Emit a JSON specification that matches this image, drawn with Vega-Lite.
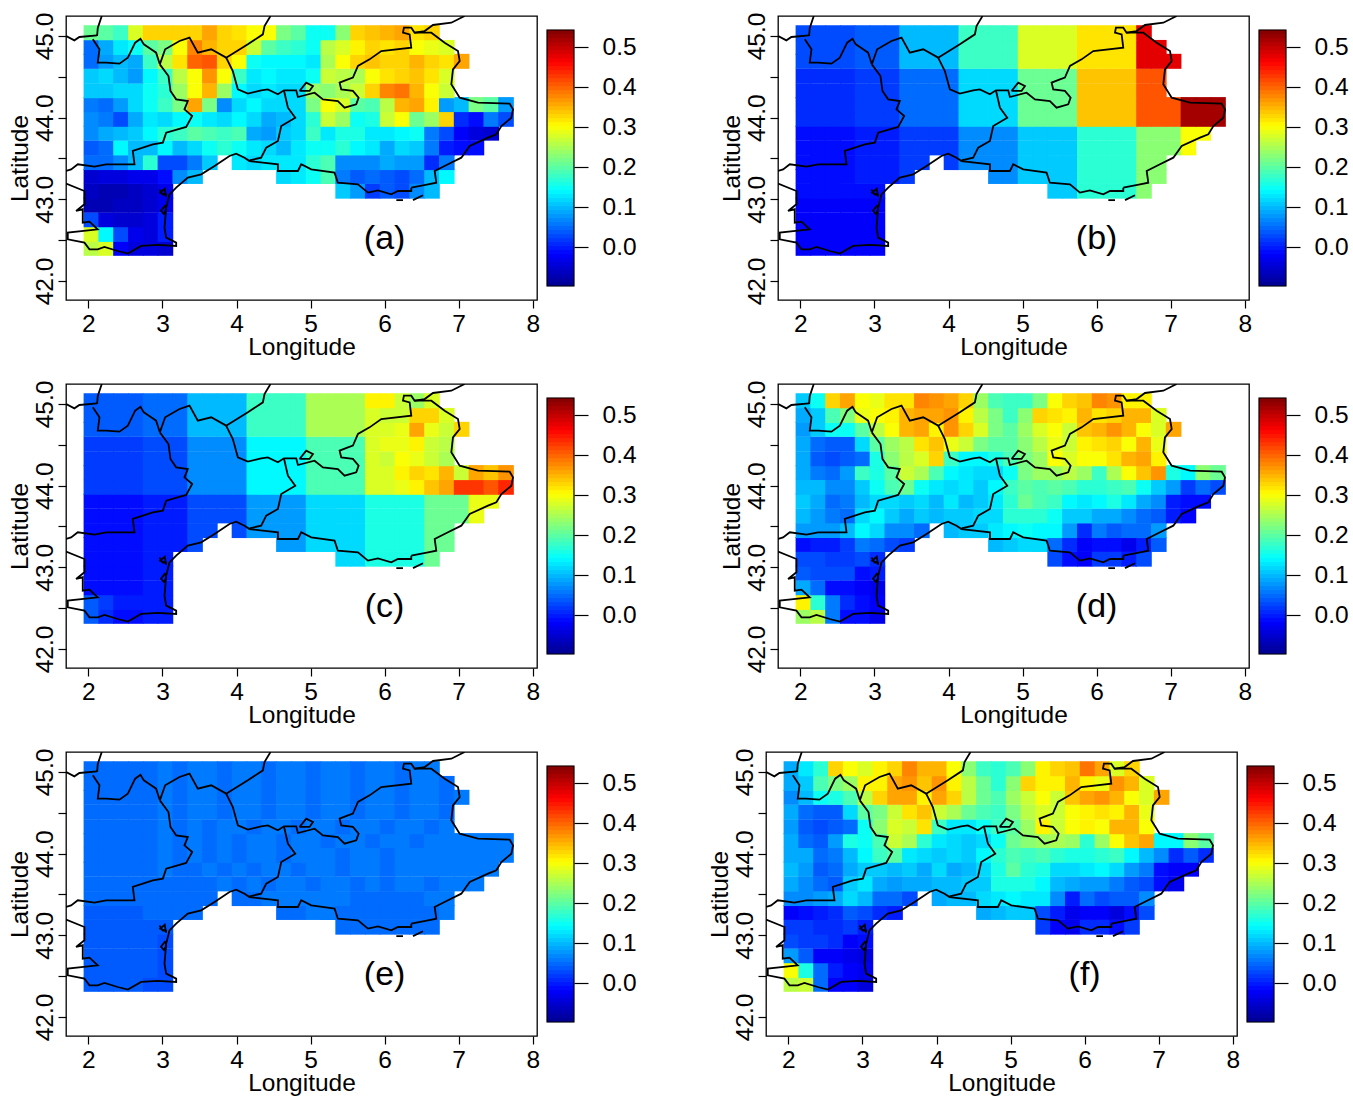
{"$schema":"https://vega.github.io/schema/vega-lite/v6.json","padding":{"left":6,"top":11,"right":2,"bottom":2},"background":"white","config":{"font":"Liberation Sans","view":{"stroke":"black","strokeWidth":1.3},"axis":{"grid":false,"domain":false,"labelColor":"black","titleColor":"black","tickColor":"black","labelFontSize":24.5,"titleFontSize":24.5,"titleFontWeight":"normal","tickSize":8,"tickWidth":1.2,"labelOverlap":false,"labelFlush":false}},"datasets":{"cells":[
{"x":2.04,"y":42.4,"a":26,"b":-2,"c":4,"d":24,"e":4,"f":26},{"x":2.24,"y":42.4,"a":28,"b":-2,"c":1,"d":26,"e":4,"f":27},{"x":2.44,"y":42.4,"a":-2,"b":-2,"c":-1,"d":6,"e":4,"f":5},{"x":2.64,"y":42.4,"a":-4,"b":-2,"c":-1,"d":-1,"e":4,"f":-2},{"x":2.84,"y":42.4,"a":-4,"b":-2,"c":0,"d":-1,"e":3,"f":-2},{"x":3.04,"y":42.4,"a":-5,"b":-2,"c":0,"d":-3,"e":3,"f":-4},
{"x":2.04,"y":42.57,"a":28,"b":-2,"c":4,"d":31,"e":4,"f":30},{"x":2.24,"y":42.57,"a":14,"b":-2,"c":2,"d":17,"e":4,"f":16},{"x":2.44,"y":42.57,"a":3,"b":-2,"c":0,"d":6,"e":4,"f":5},{"x":2.64,"y":42.57,"a":-3,"b":-2,"c":0,"d":1,"e":4,"f":0},{"x":2.84,"y":42.57,"a":-4,"b":-2,"c":0,"d":-1,"e":4,"f":-2},{"x":3.04,"y":42.57,"a":0,"b":-2,"c":0,"d":-2,"e":3,"f":-3},
{"x":2.04,"y":42.75,"a":3,"b":-2,"c":-1,"d":9,"e":4,"f":8},{"x":2.24,"y":42.75,"a":-4,"b":-2,"c":-1,"d":5,"e":4,"f":4},{"x":2.44,"y":42.75,"a":-5,"b":-2,"c":-1,"d":-1,"e":4,"f":-2},{"x":2.64,"y":42.75,"a":-5,"b":-2,"c":-1,"d":-1,"e":4,"f":-2},{"x":2.84,"y":42.75,"a":-4,"b":-2,"c":0,"d":-2,"e":4,"f":-3},{"x":3.04,"y":42.75,"a":0,"b":-2,"c":0,"d":-3,"e":3,"f":-4},
{"x":2.04,"y":42.93,"a":-7,"b":-2,"c":-1,"d":4,"e":4,"f":3},{"x":2.24,"y":42.93,"a":-7,"b":-2,"c":-1,"d":3,"e":4,"f":2},{"x":2.44,"y":42.93,"a":-6,"b":-2,"c":-1,"d":3,"e":4,"f":2},{"x":2.64,"y":42.93,"a":-6,"b":-2,"c":-1,"d":3,"e":4,"f":1},{"x":2.84,"y":42.93,"a":-5,"b":-2,"c":0,"d":-1,"e":4,"f":-2},{"x":3.04,"y":42.93,"a":-3,"b":-2,"c":0,"d":0,"e":3,"f":-1},
{"x":2.04,"y":43.1,"a":-6,"b":-1,"c":-1,"d":3,"e":4,"f":2},{"x":2.24,"y":43.1,"a":-7,"b":-1,"c":-1,"d":3,"e":4,"f":2},{"x":2.44,"y":43.1,"a":-7,"b":-1,"c":-1,"d":2,"e":4,"f":1},{"x":2.64,"y":43.1,"a":-6,"b":-1,"c":-1,"d":2,"e":4,"f":1},{"x":2.84,"y":43.1,"a":-5,"b":-1,"c":0,"d":3,"e":4,"f":2},{"x":3.04,"y":43.1,"a":-3,"b":-1,"c":0,"d":1,"e":4,"f":0},{"x":5.44,"y":43.1,"a":11,"b":11,"c":12,"d":3,"e":5,"f":2},{"x":5.64,"y":43.1,"a":8,"b":11,"c":12,"d":-1,"e":5,"f":-2},{"x":5.84,"y":43.1,"a":2,"b":17,"c":16,"d":-2,"e":5,"f":-3},{"x":6.04,"y":43.1,"a":4,"b":17,"c":16,"d":2,"e":5,"f":1},{"x":6.24,"y":43.1,"a":3,"b":17,"c":16,"d":2,"e":5,"f":1},{"x":6.44,"y":43.1,"a":7,"b":17,"c":16,"d":0,"e":5,"f":-1},{"x":6.64,"y":43.1,"a":10,"b":23,"c":21,"d":3,"e":5,"f":2},
{"x":2.04,"y":43.28,"a":-5,"b":-1,"c":-1,"d":-1,"e":4,"f":-2},{"x":2.24,"y":43.28,"a":-4,"b":-1,"c":-1,"d":0,"e":4,"f":-1},{"x":2.44,"y":43.28,"a":-4,"b":-1,"c":-1,"d":0,"e":4,"f":0},{"x":2.64,"y":43.28,"a":-3,"b":-1,"c":-1,"d":2,"e":4,"f":1},{"x":2.84,"y":43.28,"a":-3,"b":0,"c":0,"d":6,"e":5,"f":4},{"x":3.04,"y":43.28,"a":-1,"b":0,"c":0,"d":5,"e":5,"f":3},{"x":3.24,"y":43.28,"a":7,"b":0,"c":0,"d":3,"e":5,"f":1},{"x":3.44,"y":43.28,"a":10,"b":2,"c":3,"d":2,"e":5,"f":0},{"x":4.64,"y":43.28,"a":12,"b":7,"c":8,"d":10,"e":5,"f":9},{"x":4.84,"y":43.28,"a":13,"b":7,"c":8,"d":11,"e":5,"f":10},{"x":5.04,"y":43.28,"a":15,"b":11,"c":12,"d":12,"e":6,"f":11},{"x":5.24,"y":43.28,"a":19,"b":11,"c":12,"d":12,"e":6,"f":11},{"x":5.44,"y":43.28,"a":6,"b":11,"c":12,"d":5,"e":5,"f":3},{"x":5.64,"y":43.28,"a":4,"b":11,"c":12,"d":1,"e":5,"f":0},{"x":5.84,"y":43.28,"a":5,"b":17,"c":16,"d":-2,"e":5,"f":-3},{"x":6.04,"y":43.28,"a":4,"b":17,"c":16,"d":-1,"e":5,"f":-2},{"x":6.24,"y":43.28,"a":3,"b":17,"c":16,"d":-1,"e":5,"f":-2},{"x":6.44,"y":43.28,"a":5,"b":17,"c":16,"d":-3,"e":5,"f":-4},{"x":6.64,"y":43.28,"a":10,"b":23,"c":21,"d":0,"e":5,"f":-1},{"x":6.84,"y":43.28,"a":14,"b":23,"c":21,"d":4,"e":6,"f":3},
{"x":2.04,"y":43.45,"a":5,"b":-1,"c":-1,"d":8,"e":5,"f":7},{"x":2.24,"y":43.45,"a":5,"b":-1,"c":-1,"d":8,"e":5,"f":7},{"x":2.44,"y":43.45,"a":7,"b":-1,"c":-1,"d":8,"e":5,"f":8},{"x":2.64,"y":43.45,"a":10,"b":-1,"c":-1,"d":10,"e":5,"f":9},{"x":2.84,"y":43.45,"a":17,"b":0,"c":0,"d":14,"e":5,"f":12},{"x":3.04,"y":43.45,"a":3,"b":0,"c":0,"d":12,"e":5,"f":10},{"x":3.24,"y":43.45,"a":3,"b":0,"c":0,"d":7,"e":5,"f":5},{"x":3.44,"y":43.45,"a":6,"b":2,"c":3,"d":7,"e":5,"f":5},{"x":3.64,"y":43.45,"a":11,"b":2,"c":3,"d":5,"e":5,"f":3},{"x":4.04,"y":43.45,"a":13,"b":2,"c":3,"d":10,"e":5,"f":9},{"x":4.24,"y":43.45,"a":12,"b":7,"c":8,"d":11,"e":5,"f":10},{"x":4.44,"y":43.45,"a":13,"b":7,"c":8,"d":11,"e":6,"f":10},{"x":4.64,"y":43.45,"a":13,"b":7,"c":8,"d":13,"e":6,"f":12},{"x":4.84,"y":43.45,"a":13,"b":7,"c":8,"d":14,"e":6,"f":13},{"x":5.04,"y":43.45,"a":17,"b":11,"c":12,"d":15,"e":6,"f":14},{"x":5.24,"y":43.45,"a":19,"b":11,"c":12,"d":14,"e":6,"f":13},{"x":5.44,"y":43.45,"a":7,"b":11,"c":12,"d":14,"e":6,"f":13},{"x":5.64,"y":43.45,"a":7,"b":11,"c":12,"d":8,"e":5,"f":7},{"x":5.84,"y":43.45,"a":7,"b":17,"c":16,"d":1,"e":5,"f":0},{"x":6.04,"y":43.45,"a":9,"b":17,"c":16,"d":6,"e":5,"f":5},{"x":6.24,"y":43.45,"a":8,"b":17,"c":16,"d":4,"e":5,"f":3},{"x":6.44,"y":43.45,"a":8,"b":17,"c":16,"d":5,"e":5,"f":4},{"x":6.64,"y":43.45,"a":1,"b":23,"c":21,"d":5,"e":6,"f":4},{"x":6.84,"y":43.45,"a":6,"b":23,"c":21,"d":8,"e":6,"f":7},
{"x":2.04,"y":43.63,"a":4,"b":-1,"c":-1,"d":10,"e":5,"f":9},{"x":2.24,"y":43.63,"a":5,"b":-1,"c":-1,"d":8,"e":5,"f":7},{"x":2.44,"y":43.63,"a":14,"b":-1,"c":-1,"d":6,"e":5,"f":5},{"x":2.64,"y":43.63,"a":10,"b":-1,"c":-1,"d":5,"e":5,"f":4},{"x":2.84,"y":43.63,"a":10,"b":0,"c":0,"d":12,"e":5,"f":11},{"x":3.04,"y":43.63,"a":14,"b":0,"c":0,"d":14,"e":5,"f":13},{"x":3.24,"y":43.63,"a":10,"b":0,"c":0,"d":11,"e":5,"f":9},{"x":3.44,"y":43.63,"a":12,"b":2,"c":3,"d":9,"e":5,"f":8},{"x":3.64,"y":43.63,"a":15,"b":2,"c":3,"d":11,"e":5,"f":9},{"x":3.84,"y":43.63,"a":17,"b":2,"c":3,"d":10,"e":6,"f":9},{"x":4.04,"y":43.63,"a":15,"b":2,"c":3,"d":11,"e":5,"f":10},{"x":4.24,"y":43.63,"a":13,"b":7,"c":8,"d":11,"e":6,"f":10},{"x":4.44,"y":43.63,"a":12,"b":7,"c":8,"d":12,"e":5,"f":11},{"x":4.64,"y":43.63,"a":10,"b":7,"c":8,"d":12,"e":6,"f":11},{"x":4.84,"y":43.63,"a":13,"b":7,"c":8,"d":17,"e":6,"f":16},{"x":5.04,"y":43.63,"a":15,"b":11,"c":12,"d":17,"e":5,"f":16},{"x":5.24,"y":43.63,"a":15,"b":11,"c":12,"d":17,"e":6,"f":16},{"x":5.44,"y":43.63,"a":17,"b":11,"c":12,"d":15,"e":6,"f":14},{"x":5.64,"y":43.63,"a":14,"b":11,"c":12,"d":11,"e":5,"f":10},{"x":5.84,"y":43.63,"a":13,"b":17,"c":16,"d":11,"e":6,"f":9},{"x":6.04,"y":43.63,"a":9,"b":17,"c":16,"d":9,"e":5,"f":8},{"x":6.24,"y":43.63,"a":12,"b":17,"c":16,"d":9,"e":6,"f":8},{"x":6.44,"y":43.63,"a":11,"b":17,"c":16,"d":7,"e":6,"f":6},{"x":6.64,"y":43.63,"a":6,"b":23,"c":21,"d":5,"e":5,"f":4},{"x":6.84,"y":43.63,"a":0,"b":23,"c":21,"d":4,"e":6,"f":3},{"x":7.04,"y":43.63,"a":-1,"b":23,"c":21,"d":0,"e":6,"f":-1},{"x":7.24,"y":43.63,"a":-1,"b":30,"c":29,"d":-2,"e":6,"f":-3},
{"x":2.04,"y":43.81,"a":7,"b":-1,"c":-1,"d":11,"e":5,"f":10},{"x":2.24,"y":43.81,"a":9,"b":-1,"c":-1,"d":9,"e":5,"f":8},{"x":2.44,"y":43.81,"a":10,"b":-1,"c":-1,"d":5,"e":5,"f":4},{"x":2.64,"y":43.81,"a":11,"b":-1,"c":-1,"d":6,"e":5,"f":5},{"x":2.84,"y":43.81,"a":14,"b":0,"c":0,"d":10,"e":5,"f":9},{"x":3.04,"y":43.81,"a":17,"b":0,"c":0,"d":12,"e":6,"f":11},{"x":3.24,"y":43.81,"a":18,"b":0,"c":0,"d":12,"e":5,"f":11},{"x":3.44,"y":43.81,"a":20,"b":2,"c":3,"d":11,"e":5,"f":10},{"x":3.64,"y":43.81,"a":19,"b":2,"c":3,"d":12,"e":6,"f":11},{"x":3.84,"y":43.81,"a":18,"b":2,"c":3,"d":10,"e":5,"f":9},{"x":4.04,"y":43.81,"a":19,"b":2,"c":3,"d":13,"e":6,"f":12},{"x":4.24,"y":43.81,"a":9,"b":7,"c":8,"d":10,"e":5,"f":9},{"x":4.44,"y":43.81,"a":8,"b":7,"c":8,"d":11,"e":6,"f":10},{"x":4.64,"y":43.81,"a":11,"b":7,"c":8,"d":13,"e":6,"f":12},{"x":4.84,"y":43.81,"a":12,"b":7,"c":8,"d":17,"e":5,"f":16},{"x":5.04,"y":43.81,"a":18,"b":11,"c":12,"d":21,"e":6,"f":20},{"x":5.24,"y":43.81,"a":13,"b":11,"c":12,"d":19,"e":6,"f":17},{"x":5.44,"y":43.81,"a":16,"b":11,"c":12,"d":18,"e":5,"f":16},{"x":5.64,"y":43.81,"a":16,"b":11,"c":12,"d":14,"e":6,"f":12},{"x":5.84,"y":43.81,"a":13,"b":17,"c":16,"d":13,"e":6,"f":12},{"x":6.04,"y":43.81,"a":13,"b":17,"c":16,"d":14,"e":5,"f":13},{"x":6.24,"y":43.81,"a":14,"b":17,"c":16,"d":16,"e":6,"f":14},{"x":6.44,"y":43.81,"a":15,"b":17,"c":16,"d":13,"e":6,"f":12},{"x":6.64,"y":43.81,"a":6,"b":23,"c":21,"d":9,"e":6,"f":8},{"x":6.84,"y":43.81,"a":3,"b":23,"c":21,"d":7,"e":6,"f":6},{"x":7.04,"y":43.81,"a":-2,"b":23,"c":21,"d":0,"e":6,"f":-1},{"x":7.24,"y":43.81,"a":-4,"b":30,"c":29,"d":-1,"e":6,"f":-2},{"x":7.44,"y":43.81,"a":-5,"b":30,"c":29,"d":-1,"e":6,"f":-2},
{"x":2.04,"y":43.98,"a":7,"b":1,"c":2,"d":10,"e":5,"f":9},{"x":2.24,"y":43.98,"a":6,"b":1,"c":2,"d":10,"e":5,"f":9},{"x":2.44,"y":43.98,"a":3,"b":1,"c":2,"d":7,"e":5,"f":5},{"x":2.64,"y":43.98,"a":9,"b":1,"c":2,"d":7,"e":5,"f":6},{"x":2.84,"y":43.98,"a":13,"b":2,"c":3,"d":11,"e":5,"f":10},{"x":3.04,"y":43.98,"a":12,"b":2,"c":3,"d":15,"e":6,"f":14},{"x":3.24,"y":43.98,"a":14,"b":2,"c":3,"d":19,"e":5,"f":18},{"x":3.44,"y":43.98,"a":15,"b":5,"c":7,"d":21,"e":6,"f":20},{"x":3.64,"y":43.98,"a":13,"b":5,"c":7,"d":15,"e":5,"f":13},{"x":3.84,"y":43.98,"a":12,"b":5,"c":7,"d":13,"e":6,"f":12},{"x":4.04,"y":43.98,"a":14,"b":5,"c":7,"d":12,"e":5,"f":11},{"x":4.24,"y":43.98,"a":12,"b":12,"c":14,"d":13,"e":6,"f":12},{"x":4.44,"y":43.98,"a":9,"b":12,"c":14,"d":11,"e":6,"f":11},{"x":4.64,"y":43.98,"a":10,"b":12,"c":14,"d":14,"e":5,"f":14},{"x":4.84,"y":43.98,"a":12,"b":12,"c":14,"d":18,"e":6,"f":17},{"x":5.04,"y":43.98,"a":17,"b":21,"c":19,"d":20,"e":6,"f":19},{"x":5.24,"y":43.98,"a":27,"b":21,"c":19,"d":19,"e":6,"f":18},{"x":5.44,"y":43.98,"a":24,"b":21,"c":19,"d":20,"e":5,"f":19},{"x":5.64,"y":43.98,"a":15,"b":21,"c":19,"d":19,"e":6,"f":17},{"x":5.84,"y":43.98,"a":16,"b":34,"c":28,"d":17,"e":6,"f":16},{"x":6.04,"y":43.98,"a":27,"b":34,"c":28,"d":17,"e":5,"f":16},{"x":6.24,"y":43.98,"a":30,"b":34,"c":29,"d":18,"e":6,"f":17},{"x":6.44,"y":43.98,"a":21,"b":34,"c":31,"d":19,"e":6,"f":18},{"x":6.64,"y":43.98,"a":24,"b":41,"c":34,"d":15,"e":6,"f":14},{"x":6.84,"y":43.98,"a":33,"b":41,"c":36,"d":11,"e":6,"f":10},{"x":7.04,"y":43.98,"a":1,"b":41,"c":43,"d":8,"e":6,"f":7},{"x":7.24,"y":43.98,"a":-1,"b":52,"c":43,"d":2,"e":6,"f":1},{"x":7.44,"y":43.98,"a":6,"b":52,"c":41,"d":5,"e":6,"f":4},{"x":7.64,"y":43.98,"a":3,"b":52,"c":44,"d":3,"e":6,"f":1},
{"x":2.04,"y":44.16,"a":6,"b":1,"c":2,"d":9,"e":5,"f":9},{"x":2.24,"y":44.16,"a":5,"b":1,"c":2,"d":6,"e":5,"f":5},{"x":2.44,"y":44.16,"a":8,"b":1,"c":2,"d":5,"e":5,"f":4},{"x":2.64,"y":44.16,"a":12,"b":1,"c":2,"d":8,"e":5,"f":8},{"x":2.84,"y":44.16,"a":15,"b":2,"c":3,"d":18,"e":5,"f":16},{"x":3.04,"y":44.16,"a":18,"b":2,"c":3,"d":16,"e":6,"f":15},{"x":3.24,"y":44.16,"a":22,"b":2,"c":3,"d":20,"e":5,"f":19},{"x":3.44,"y":44.16,"a":36,"b":5,"c":7,"d":27,"e":6,"f":27},{"x":3.64,"y":44.16,"a":22,"b":5,"c":7,"d":25,"e":5,"f":25},{"x":3.84,"y":44.16,"a":7,"b":5,"c":7,"d":19,"e":6,"f":17},{"x":4.04,"y":44.16,"a":12,"b":5,"c":7,"d":14,"e":5,"f":13},{"x":4.24,"y":44.16,"a":14,"b":12,"c":14,"d":13,"e":6,"f":12},{"x":4.44,"y":44.16,"a":12,"b":12,"c":14,"d":12,"e":6,"f":11},{"x":4.64,"y":44.16,"a":12,"b":12,"c":14,"d":12,"e":5,"f":12},{"x":4.84,"y":44.16,"a":12,"b":12,"c":14,"d":15,"e":6,"f":15},{"x":5.04,"y":44.16,"a":22,"b":21,"c":19,"d":22,"e":6,"f":21},{"x":5.24,"y":44.16,"a":30,"b":21,"c":19,"d":24,"e":5,"f":23},{"x":5.44,"y":44.16,"a":28,"b":21,"c":19,"d":24,"e":6,"f":24},{"x":5.64,"y":44.16,"a":20,"b":21,"c":19,"d":26,"e":6,"f":25},{"x":5.84,"y":44.16,"a":19,"b":34,"c":28,"d":24,"e":5,"f":24},{"x":6.04,"y":44.16,"a":26,"b":34,"c":28,"d":18,"e":6,"f":17},{"x":6.24,"y":44.16,"a":35,"b":34,"c":31,"d":25,"e":6,"f":24},{"x":6.44,"y":44.16,"a":36,"b":34,"c":33,"d":30,"e":5,"f":30},{"x":6.64,"y":44.16,"a":31,"b":41,"c":32,"d":34,"e":6,"f":34},{"x":6.84,"y":44.16,"a":8,"b":41,"c":35,"d":37,"e":6,"f":36},{"x":7.04,"y":44.16,"a":10,"b":41,"c":27,"d":16,"e":6,"f":14},{"x":7.24,"y":44.16,"a":22,"b":52,"c":36,"d":14,"e":6,"f":14},{"x":7.44,"y":44.16,"a":20,"b":52,"c":34,"d":23,"e":6,"f":23},{"x":7.64,"y":44.16,"a":8,"b":52,"c":37,"d":21,"e":6,"f":20},
{"x":2.04,"y":44.33,"a":11,"b":1,"c":2,"d":9,"e":5,"f":8},{"x":2.24,"y":44.33,"a":11,"b":1,"c":2,"d":4,"e":5,"f":4},{"x":2.44,"y":44.33,"a":12,"b":1,"c":2,"d":3,"e":5,"f":3},{"x":2.64,"y":44.33,"a":12,"b":1,"c":2,"d":4,"e":5,"f":4},{"x":2.84,"y":44.33,"a":15,"b":2,"c":3,"d":5,"e":5,"f":5},{"x":3.04,"y":44.33,"a":17,"b":2,"c":3,"d":16,"e":6,"f":15},{"x":3.24,"y":44.33,"a":24,"b":2,"c":3,"d":23,"e":5,"f":23},{"x":3.44,"y":44.33,"a":30,"b":5,"c":7,"d":26,"e":6,"f":28},{"x":3.64,"y":44.33,"a":35,"b":5,"c":7,"d":28,"e":5,"f":27},{"x":3.84,"y":44.33,"a":24,"b":5,"c":7,"d":33,"e":6,"f":32},{"x":4.04,"y":44.33,"a":14,"b":5,"c":7,"d":18,"e":6,"f":18},{"x":4.24,"y":44.33,"a":12,"b":12,"c":14,"d":14,"e":5,"f":13},{"x":4.44,"y":44.33,"a":13,"b":12,"c":14,"d":14,"e":6,"f":13},{"x":4.64,"y":44.33,"a":12,"b":12,"c":14,"d":16,"e":6,"f":15},{"x":4.84,"y":44.33,"a":12,"b":12,"c":14,"d":19,"e":5,"f":18},{"x":5.04,"y":44.33,"a":24,"b":21,"c":19,"d":22,"e":6,"f":20},{"x":5.24,"y":44.33,"a":23,"b":21,"c":19,"d":24,"e":6,"f":24},{"x":5.44,"y":44.33,"a":25,"b":21,"c":19,"d":30,"e":5,"f":31},{"x":5.64,"y":44.33,"a":27,"b":21,"c":19,"d":28,"e":6,"f":27},{"x":5.84,"y":44.33,"a":33,"b":34,"c":28,"d":30,"e":6,"f":30},{"x":6.04,"y":44.33,"a":38,"b":34,"c":27,"d":30,"e":5,"f":31},{"x":6.24,"y":44.33,"a":39,"b":34,"c":30,"d":32,"e":6,"f":30},{"x":6.44,"y":44.33,"a":35,"b":34,"c":29,"d":35,"e":6,"f":35},{"x":6.64,"y":44.33,"a":30,"b":41,"c":27,"d":36,"e":5,"f":35},{"x":6.84,"y":44.33,"a":27,"b":41,"c":25,"d":31,"e":6,"f":30},
{"x":2.04,"y":44.51,"a":11,"b":1,"c":2,"d":9,"e":5,"f":9},{"x":2.24,"y":44.51,"a":12,"b":1,"c":2,"d":5,"e":5,"f":5},{"x":2.44,"y":44.51,"a":10,"b":1,"c":2,"d":4,"e":5,"f":4},{"x":2.64,"y":44.51,"a":8,"b":1,"c":2,"d":4,"e":5,"f":4},{"x":2.84,"y":44.51,"a":14,"b":2,"c":3,"d":12,"e":5,"f":12},{"x":3.04,"y":44.51,"a":18,"b":2,"c":3,"d":20,"e":6,"f":20},{"x":3.24,"y":44.51,"a":26,"b":2,"c":3,"d":24,"e":5,"f":22},{"x":3.44,"y":44.51,"a":30,"b":5,"c":7,"d":26,"e":6,"f":27},{"x":3.64,"y":44.51,"a":37,"b":5,"c":7,"d":32,"e":6,"f":32},{"x":3.84,"y":44.51,"a":30,"b":5,"c":7,"d":34,"e":5,"f":34},{"x":4.04,"y":44.51,"a":18,"b":5,"c":7,"d":29,"e":6,"f":27},{"x":4.24,"y":44.51,"a":13,"b":12,"c":14,"d":27,"e":6,"f":25},{"x":4.44,"y":44.51,"a":14,"b":12,"c":14,"d":22,"e":5,"f":21},{"x":4.64,"y":44.51,"a":13,"b":12,"c":14,"d":20,"e":6,"f":19},{"x":4.84,"y":44.51,"a":13,"b":12,"c":14,"d":20,"e":6,"f":18},{"x":5.04,"y":44.51,"a":15,"b":21,"c":19,"d":23,"e":5,"f":22},{"x":5.24,"y":44.51,"a":27,"b":21,"c":19,"d":26,"e":6,"f":26},{"x":5.44,"y":44.51,"a":26,"b":21,"c":19,"d":29,"e":6,"f":28},{"x":5.64,"y":44.51,"a":25,"b":21,"c":19,"d":27,"e":5,"f":27},{"x":5.84,"y":44.51,"a":30,"b":34,"c":28,"d":31,"e":6,"f":30},{"x":6.04,"y":44.51,"a":32,"b":34,"c":29,"d":32,"e":6,"f":31},{"x":6.24,"y":44.51,"a":33,"b":34,"c":29,"d":33,"e":5,"f":32},{"x":6.44,"y":44.51,"a":34,"b":34,"c":31,"d":30,"e":6,"f":31},{"x":6.64,"y":44.51,"a":32,"b":41,"c":27,"d":35,"e":6,"f":35},{"x":6.84,"y":44.51,"a":28,"b":41,"c":26,"d":29,"e":5,"f":29},
{"x":2.04,"y":44.69,"a":5,"b":3,"c":4,"d":8,"e":5,"f":7},{"x":2.24,"y":44.69,"a":8,"b":3,"c":4,"d":11,"e":5,"f":10},{"x":2.44,"y":44.69,"a":10,"b":3,"c":4,"d":15,"e":5,"f":15},{"x":2.64,"y":44.69,"a":9,"b":3,"c":4,"d":15,"e":5,"f":16},{"x":2.84,"y":44.69,"a":18,"b":4,"c":5,"d":20,"e":5,"f":19},{"x":3.04,"y":44.69,"a":26,"b":4,"c":5,"d":26,"e":6,"f":26},{"x":3.24,"y":44.69,"a":32,"b":4,"c":5,"d":30,"e":5,"f":33},{"x":3.44,"y":44.69,"a":40,"b":10,"c":10,"d":35,"e":6,"f":36},{"x":3.64,"y":44.69,"a":41,"b":10,"c":10,"d":36,"e":6,"f":36},{"x":3.84,"y":44.69,"a":33,"b":10,"c":10,"d":31,"e":5,"f":31},{"x":4.04,"y":44.69,"a":30,"b":10,"c":10,"d":37,"e":6,"f":36},{"x":4.24,"y":44.69,"a":15,"b":18,"c":18,"d":33,"e":6,"f":33},{"x":4.44,"y":44.69,"a":14,"b":18,"c":18,"d":28,"e":5,"f":26},{"x":4.64,"y":44.69,"a":14,"b":18,"c":18,"d":22,"e":6,"f":21},{"x":4.84,"y":44.69,"a":14,"b":18,"c":18,"d":20,"e":6,"f":19},{"x":5.04,"y":44.69,"a":13,"b":28,"c":25,"d":24,"e":5,"f":24},{"x":5.24,"y":44.69,"a":25,"b":28,"c":25,"d":28,"e":6,"f":27},{"x":5.44,"y":44.69,"a":30,"b":28,"c":25,"d":30,"e":6,"f":30},{"x":5.64,"y":44.69,"a":33,"b":28,"c":25,"d":27,"e":5,"f":27},{"x":5.84,"y":44.69,"a":34,"b":32,"c":28,"d":34,"e":6,"f":34},{"x":6.04,"y":44.69,"a":33,"b":32,"c":28,"d":35,"e":6,"f":36},{"x":6.24,"y":44.69,"a":33,"b":32,"c":29,"d":37,"e":5,"f":37},{"x":6.44,"y":44.69,"a":35,"b":32,"c":36,"d":35,"e":6,"f":35},{"x":6.64,"y":44.69,"a":33,"b":48,"c":29,"d":30,"e":6,"f":30},{"x":6.84,"y":44.69,"a":32,"b":48,"c":27,"d":28,"e":5,"f":28},{"x":7.04,"y":44.69,"a":36,"b":48,"c":33,"d":36,"e":6,"f":36},
{"x":2.04,"y":44.86,"a":5,"b":3,"c":4,"d":9,"e":5,"f":9},{"x":2.24,"y":44.86,"a":9,"b":3,"c":4,"d":11,"e":5,"f":11},{"x":2.44,"y":44.86,"a":13,"b":3,"c":4,"d":19,"e":5,"f":19},{"x":2.64,"y":44.86,"a":15,"b":3,"c":4,"d":22,"e":5,"f":22},{"x":2.84,"y":44.86,"a":20,"b":4,"c":5,"d":29,"e":5,"f":24},{"x":3.04,"y":44.86,"a":22,"b":4,"c":5,"d":30,"e":6,"f":31},{"x":3.24,"y":44.86,"a":30,"b":4,"c":5,"d":31,"e":5,"f":31},{"x":3.44,"y":44.86,"a":38,"b":10,"c":10,"d":35,"e":6,"f":36},{"x":3.64,"y":44.86,"a":35,"b":10,"c":10,"d":36,"e":6,"f":37},{"x":3.84,"y":44.86,"a":33,"b":10,"c":10,"d":36,"e":5,"f":34},{"x":4.04,"y":44.86,"a":33,"b":10,"c":10,"d":37,"e":6,"f":37},{"x":4.24,"y":44.86,"a":27,"b":18,"c":18,"d":31,"e":6,"f":31},{"x":4.44,"y":44.86,"a":20,"b":18,"c":18,"d":26,"e":5,"f":26},{"x":4.64,"y":44.86,"a":18,"b":18,"c":18,"d":22,"e":6,"f":21},{"x":4.84,"y":44.86,"a":17,"b":18,"c":18,"d":18,"e":6,"f":17},{"x":5.04,"y":44.86,"a":15,"b":28,"c":25,"d":23,"e":5,"f":23},{"x":5.24,"y":44.86,"a":26,"b":28,"c":25,"d":33,"e":6,"f":33},{"x":5.44,"y":44.86,"a":28,"b":28,"c":25,"d":32,"e":6,"f":31},{"x":5.64,"y":44.86,"a":31,"b":28,"c":25,"d":31,"e":5,"f":31},{"x":5.84,"y":44.86,"a":33,"b":32,"c":28,"d":35,"e":6,"f":35},{"x":6.04,"y":44.86,"a":32,"b":32,"c":27,"d":32,"e":6,"f":31},{"x":6.24,"y":44.86,"a":33,"b":32,"c":27,"d":33,"e":5,"f":29},{"x":6.44,"y":44.86,"a":30,"b":32,"c":33,"d":35,"e":6,"f":37},{"x":6.64,"y":44.86,"a":29,"b":48,"c":33,"d":35,"e":6,"f":35},{"x":6.84,"y":44.86,"a":28,"b":48,"c":28,"d":28,"e":5,"f":28},
{"x":2.04,"y":45.04,"a":21,"b":3,"c":4,"d":11,"e":5,"f":9},{"x":2.24,"y":45.04,"a":20,"b":3,"c":4,"d":15,"e":5,"f":13},{"x":2.44,"y":45.04,"a":18,"b":3,"c":4,"d":33,"e":5,"f":17},{"x":2.64,"y":45.04,"a":28,"b":3,"c":4,"d":36,"e":5,"f":33},{"x":2.84,"y":45.04,"a":33,"b":4,"c":5,"d":30,"e":5,"f":30},{"x":3.04,"y":45.04,"a":33,"b":4,"c":5,"d":29,"e":6,"f":28},{"x":3.24,"y":45.04,"a":33,"b":4,"c":5,"d":32,"e":5,"f":31},{"x":3.44,"y":45.04,"a":33,"b":10,"c":10,"d":32,"e":6,"f":33},{"x":3.64,"y":45.04,"a":36,"b":10,"c":10,"d":38,"e":6,"f":38},{"x":3.84,"y":45.04,"a":33,"b":10,"c":10,"d":37,"e":5,"f":35},{"x":4.04,"y":45.04,"a":32,"b":10,"c":10,"d":36,"e":6,"f":35},{"x":4.24,"y":45.04,"a":30,"b":18,"c":18,"d":33,"e":6,"f":30},{"x":4.44,"y":45.04,"a":30,"b":18,"c":18,"d":24,"e":5,"f":23},{"x":4.64,"y":45.04,"a":22,"b":18,"c":18,"d":19,"e":6,"f":18},{"x":4.84,"y":45.04,"a":20,"b":18,"c":18,"d":18,"e":6,"f":17},{"x":5.04,"y":45.04,"a":15,"b":28,"c":25,"d":18,"e":5,"f":19},{"x":5.24,"y":45.04,"a":15,"b":28,"c":25,"d":22,"e":6,"f":23},{"x":5.44,"y":45.04,"a":23,"b":28,"c":25,"d":30,"e":6,"f":31},{"x":5.64,"y":45.04,"a":33,"b":28,"c":25,"d":33,"e":5,"f":33},{"x":5.84,"y":45.04,"a":34,"b":32,"c":31,"d":34,"e":6,"f":34},{"x":6.04,"y":45.04,"a":35,"b":32,"c":31,"d":38,"e":6,"f":39},{"x":6.24,"y":45.04,"a":36,"b":32,"c":27,"d":37,"e":5,"f":36},{"x":6.44,"y":45.04,"a":32,"b":32,"c":24,"d":31,"e":6,"f":28},{"x":6.64,"y":45.04,"a":33,"b":48,"c":28,"d":31,"e":6,"f":33}
],"lines":[
{"lon":2.18,"lat":45.245,"g":"A"},{"lon":2.126,"lat":45.1,"g":"A"},{"lon":2.117,"lat":45.0,"g":"A"},
{"lon":1.7,"lat":45.0,"g":"A2"},{"lon":1.81,"lat":44.947,"g":"A2"},{"lon":1.878,"lat":44.988,"g":"A2"},{"lon":2.117,"lat":45.008,"g":"A2"},
{"lon":2.059,"lat":44.959,"g":"B"},{"lon":2.149,"lat":44.837,"g":"B"},{"lon":2.126,"lat":44.673,"g":"B"},{"lon":2.239,"lat":44.673,"g":"B"},{"lon":2.419,"lat":44.661,"g":"B"},{"lon":2.532,"lat":44.735,"g":"B"},{"lon":2.631,"lat":44.918,"g":"B"},{"lon":2.703,"lat":44.967,"g":"B"},{"lon":2.748,"lat":44.898,"g":"B"},{"lon":2.847,"lat":44.837,"g":"B"},{"lon":2.914,"lat":44.796,"g":"B"},{"lon":2.964,"lat":44.653,"g":"B"},
{"lon":2.964,"lat":44.653,"g":"C"},{"lon":3.036,"lat":44.837,"g":"C"},{"lon":3.23,"lat":44.939,"g":"C"},{"lon":3.365,"lat":44.98,"g":"C"},{"lon":3.477,"lat":44.796,"g":"C"},{"lon":3.658,"lat":44.837,"g":"C"},{"lon":3.86,"lat":44.735,"g":"C"},{"lon":4.153,"lat":44.898,"g":"C"},{"lon":4.356,"lat":45.02,"g":"C"},{"lon":4.378,"lat":45.122,"g":"C"},{"lon":4.459,"lat":45.245,"g":"C"},
{"lon":2.964,"lat":44.653,"g":"D"},{"lon":3.081,"lat":44.51,"g":"D"},{"lon":3.108,"lat":44.327,"g":"D"},{"lon":3.185,"lat":44.224,"g":"D"},{"lon":3.342,"lat":44.204,"g":"D"},{"lon":3.297,"lat":44.102,"g":"D"},{"lon":3.401,"lat":44.02,"g":"D"},{"lon":3.32,"lat":43.886,"g":"D"},{"lon":3.05,"lat":43.816,"g":"D"},{"lon":3.005,"lat":43.694,"g":"D"},{"lon":2.869,"lat":43.673,"g":"D"},{"lon":2.599,"lat":43.592,"g":"D"},{"lon":2.622,"lat":43.429,"g":"D"},{"lon":2.239,"lat":43.429,"g":"D"},{"lon":2.081,"lat":43.4,"g":"D"},{"lon":1.856,"lat":43.429,"g":"D"},{"lon":1.766,"lat":43.367,"g":"D"},{"lon":1.698,"lat":43.347,"g":"D"},
{"lon":3.86,"lat":44.735,"g":"E"},{"lon":3.95,"lat":44.571,"g":"E"},{"lon":4.018,"lat":44.347,"g":"E"},{"lon":4.153,"lat":44.294,"g":"E"},{"lon":4.333,"lat":44.335,"g":"E"},{"lon":4.423,"lat":44.347,"g":"E"},{"lon":4.559,"lat":44.286,"g":"E"},{"lon":4.64,"lat":44.335,"g":"E"},{"lon":4.806,"lat":44.335,"g":"E"},{"lon":4.829,"lat":44.253,"g":"E"},{"lon":5.054,"lat":44.306,"g":"E"},{"lon":5.167,"lat":44.224,"g":"E"},{"lon":5.369,"lat":44.204,"g":"E"},{"lon":5.459,"lat":44.122,"g":"E"},{"lon":5.617,"lat":44.163,"g":"E"},{"lon":5.649,"lat":44.245,"g":"E"},{"lon":5.572,"lat":44.327,"g":"E"},{"lon":5.414,"lat":44.347,"g":"E"},{"lon":5.392,"lat":44.429,"g":"E"},{"lon":5.505,"lat":44.469,"g":"E"},{"lon":5.572,"lat":44.49,"g":"E"},{"lon":5.64,"lat":44.633,"g":"E"},{"lon":5.797,"lat":44.714,"g":"E"},{"lon":5.955,"lat":44.816,"g":"E"},{"lon":6.36,"lat":44.857,"g":"E"},{"lon":6.338,"lat":45.02,"g":"E"},{"lon":6.248,"lat":45.041,"g":"E"},{"lon":6.261,"lat":45.102,"g":"E"},{"lon":6.36,"lat":45.102,"g":"E"},{"lon":6.405,"lat":45.041,"g":"E"},{"lon":6.541,"lat":45.061,"g":"E"},{"lon":6.653,"lat":45.135,"g":"E"},{"lon":6.901,"lat":45.163,"g":"E"},{"lon":7.081,"lat":45.245,"g":"E"},
{"lon":4.851,"lat":44.327,"g":"P"},{"lon":4.941,"lat":44.429,"g":"P"},{"lon":5.032,"lat":44.388,"g":"P"},{"lon":4.986,"lat":44.327,"g":"P"},{"lon":4.851,"lat":44.327,"g":"P"},
{"lon":4.64,"lat":44.335,"g":"F"},{"lon":4.694,"lat":44.122,"g":"F"},{"lon":4.793,"lat":44.0,"g":"F"},{"lon":4.604,"lat":43.898,"g":"F"},{"lon":4.559,"lat":43.714,"g":"F"},{"lon":4.401,"lat":43.633,"g":"F"},{"lon":4.333,"lat":43.51,"g":"F"},{"lon":4.176,"lat":43.478,"g":"F"},
{"lon":6.405,"lat":45.041,"g":"G"},{"lon":6.631,"lat":45.041,"g":"G"},{"lon":6.811,"lat":44.918,"g":"G"},{"lon":6.991,"lat":44.816,"g":"G"},{"lon":7.014,"lat":44.694,"g":"G"},{"lon":6.923,"lat":44.592,"g":"G"},{"lon":6.901,"lat":44.408,"g":"G"},{"lon":7.014,"lat":44.245,"g":"G"},{"lon":7.261,"lat":44.184,"g":"G"},{"lon":7.689,"lat":44.171,"g":"G"},{"lon":7.734,"lat":44.102,"g":"G"},{"lon":7.712,"lat":44.0,"g":"G"},{"lon":7.577,"lat":43.898,"g":"G"},{"lon":7.509,"lat":43.796,"g":"G"},{"lon":7.396,"lat":43.755,"g":"G"},{"lon":7.149,"lat":43.653,"g":"G"},{"lon":7.036,"lat":43.51,"g":"G"},{"lon":6.856,"lat":43.429,"g":"G"},{"lon":6.676,"lat":43.347,"g":"G"},{"lon":6.698,"lat":43.204,"g":"G"},{"lon":6.586,"lat":43.184,"g":"G"},{"lon":6.36,"lat":43.143,"g":"G"},
{"lon":6.36,"lat":43.143,"g":"H"},{"lon":6.36,"lat":43.102,"g":"H"},{"lon":6.18,"lat":43.102,"g":"H"},{"lon":6.09,"lat":43.061,"g":"H"},{"lon":5.91,"lat":43.11,"g":"H"},{"lon":5.775,"lat":43.082,"g":"H"},{"lon":5.64,"lat":43.184,"g":"H"},{"lon":5.369,"lat":43.204,"g":"H"},{"lon":5.324,"lat":43.327,"g":"H"},{"lon":5.009,"lat":43.367,"g":"H"},{"lon":4.874,"lat":43.429,"g":"H"},{"lon":4.829,"lat":43.347,"g":"H"},{"lon":4.559,"lat":43.347,"g":"H"},{"lon":4.559,"lat":43.429,"g":"H"},{"lon":4.176,"lat":43.469,"g":"H"},{"lon":4.108,"lat":43.51,"g":"H"},{"lon":3.995,"lat":43.559,"g":"H"},{"lon":3.905,"lat":43.531,"g":"H"},{"lon":3.703,"lat":43.408,"g":"H"},{"lon":3.523,"lat":43.306,"g":"H"},{"lon":3.342,"lat":43.265,"g":"H"},{"lon":3.185,"lat":43.143,"g":"H"},{"lon":3.095,"lat":43.061,"g":"H"},{"lon":3.05,"lat":42.898,"g":"H"},{"lon":3.027,"lat":42.653,"g":"H"},{"lon":3.05,"lat":42.531,"g":"H"},{"lon":3.185,"lat":42.469,"g":"H"},{"lon":3.185,"lat":42.429,"g":"H"},{"lon":2.937,"lat":42.441,"g":"H"},{"lon":2.712,"lat":42.429,"g":"H"},{"lon":2.532,"lat":42.335,"g":"H"},{"lon":2.396,"lat":42.367,"g":"H"},{"lon":2.216,"lat":42.416,"g":"H"},{"lon":2.126,"lat":42.388,"g":"H"},{"lon":2.014,"lat":42.388,"g":"H"},{"lon":1.946,"lat":42.469,"g":"H"},{"lon":1.721,"lat":42.51,"g":"H"},{"lon":1.721,"lat":42.592,"g":"H"},{"lon":2.126,"lat":42.633,"g":"H"},{"lon":2.014,"lat":42.727,"g":"H"},{"lon":1.923,"lat":42.714,"g":"H"},{"lon":1.923,"lat":42.878,"g":"H"},{"lon":1.833,"lat":42.857,"g":"H"},{"lon":1.946,"lat":42.939,"g":"H"},{"lon":1.946,"lat":43.102,"g":"H"},{"lon":1.698,"lat":43.192,"g":"H"},
{"lon":2.96,"lat":43.12,"g":"J"},{"lon":3.0,"lat":43.06,"g":"J"},{"lon":3.06,"lat":43.05,"g":"J"},{"lon":2.97,"lat":43.08,"g":"J"},{"lon":3.03,"lat":43.13,"g":"J"},{"lon":3.05,"lat":43.03,"g":"J"},
{"lon":3.04,"lat":42.93,"g":"K"},{"lon":2.98,"lat":42.86,"g":"K"},{"lon":3.02,"lat":42.82,"g":"K"},{"lon":3.05,"lat":42.87,"g":"K"},{"lon":3.04,"lat":42.93,"g":"K"},
{"lon":6.158,"lat":42.99,"g":"M"},{"lon":6.248,"lat":42.99,"g":"M"},{"lon":6.383,"lat":42.99,"g":"N"},{"lon":6.518,"lat":43.05,"g":"N"}
],"bar":[{"v":-9.2},{"v":-8.2},{"v":-7.2},{"v":-6.2},{"v":-5.2},{"v":-4.2},{"v":-3.2},{"v":-2.2},{"v":-1.2},{"v":-0.2},{"v":0.8},{"v":1.8},{"v":2.8},{"v":3.8},{"v":4.8},{"v":5.8},{"v":6.8},{"v":7.8},{"v":8.8},{"v":9.8},{"v":10.8},{"v":11.8},{"v":12.8},{"v":13.8},{"v":14.8},{"v":15.8},{"v":16.8},{"v":17.8},{"v":18.8},{"v":19.8},{"v":20.8},{"v":21.8},{"v":22.8},{"v":23.8},{"v":24.8},{"v":25.8},{"v":26.8},{"v":27.8},{"v":28.8},{"v":29.8},{"v":30.8},{"v":31.8},{"v":32.8},{"v":33.8},{"v":34.8},{"v":35.8},{"v":36.8},{"v":37.8},{"v":38.8},{"v":39.8},{"v":40.8},{"v":41.8},{"v":42.8},{"v":43.8},{"v":44.8},{"v":45.8},{"v":46.8},{"v":47.8},{"v":48.8},{"v":49.8},{"v":50.8},{"v":51.8},{"v":52.8},{"v":53.8}],
"frame":[{"lo":-9.7,"hi":54.3}]},
"spacing":19,"vconcat":[
{"bounds":"flush","spacing":0,"hconcat":[
{"width":471,"height":284,"layer":[
{"data":{"name":"cells"},"mark":{"type":"rect","width":15.6,"height":15},"encoding":{"x":{"field":"x","type":"quantitative","scale":{"domain":[1.697,8.058],"nice":false,"zero":false},"axis":{"values":[2,3,4,5,6,7,8],"format":"d","title":"Longitude","labelPadding":4,"titlePadding":0}},"y":{"field":"y","type":"quantitative","scale":{"domain":[41.767,45.245],"nice":false,"zero":false},"axis":{"values":[42,42.5,43,43.5,44,44.5,45],"labelExpr":"datum.value % 1 == 0 ? format(datum.value,'.1f') : ''","labelAngle":-90,"labelAlign":"center","labelBaseline":"bottom","labelPadding":1,"title":"Latitude","titlePadding":0}},"color":{"field":"a","type":"quantitative","legend":null,"scale":{"domain":[-9.7,-1.7,14.3,30.3,46.3,54.3],"range":["#00008F","#0000FF","#00FFFF","#FFFF00","#FF0000","#800000"],"interpolate":"rgb"}}}},
{"data":{"name":"lines"},"mark":{"type":"line","color":"black","strokeWidth":1.8,"clip":true},"encoding":{"x":{"field":"lon","type":"quantitative"},"y":{"field":"lat","type":"quantitative"},"detail":{"field":"g"},"order":{"value":null}}},
{"data":{"values":[{"lon":6.0,"lat":42.51,"t":"(a)"}]},"mark":{"type":"text","fontSize":34},"encoding":{"x":{"field":"lon","type":"quantitative"},"y":{"field":"lat","type":"quantitative"},"text":{"field":"t"}}}]},
{"width":241,"height":284,"view":{"stroke":null},"layer":[
{"data":{"name":"bar"},"mark":{"type":"rect","height":4.3},"encoding":{"x":{"datum":10,"scale":{"domain":[0,241],"nice":false,"zero":false},"axis":null},"x2":{"datum":37},"y":{"field":"v","type":"quantitative","scale":{"domain":[-13.2,57.8],"nice":false,"zero":false},"axis":{"orient":"right","offset":-204,"values":[0,10,20,30,40,50],"labelExpr":"format(datum.value/100,'.1f')","title":null,"tickSize":14,"labelPadding":14,"labelAlign":"left"}},"color":{"field":"v","type":"quantitative","legend":null}}},
{"data":{"name":"frame"},"mark":{"type":"rect","filled":false,"stroke":"black","strokeWidth":1.2},"encoding":{"x":{"datum":10},"x2":{"datum":37},"y":{"field":"lo","type":"quantitative"},"y2":{"field":"hi"}}}]},
{"width":471,"height":284,"layer":[
{"data":{"name":"cells"},"mark":{"type":"rect","width":15.6,"height":15},"encoding":{"x":{"field":"x","type":"quantitative","scale":{"domain":[1.697,8.058],"nice":false,"zero":false},"axis":{"values":[2,3,4,5,6,7,8],"format":"d","title":"Longitude","labelPadding":4,"titlePadding":0}},"y":{"field":"y","type":"quantitative","scale":{"domain":[41.767,45.245],"nice":false,"zero":false},"axis":{"values":[42,42.5,43,43.5,44,44.5,45],"labelExpr":"datum.value % 1 == 0 ? format(datum.value,'.1f') : ''","labelAngle":-90,"labelAlign":"center","labelBaseline":"bottom","labelPadding":1,"title":"Latitude","titlePadding":0}},"color":{"field":"b","type":"quantitative","legend":null}}},
{"data":{"name":"lines"},"mark":{"type":"line","color":"black","strokeWidth":1.8,"clip":true},"encoding":{"x":{"field":"lon","type":"quantitative"},"y":{"field":"lat","type":"quantitative"},"detail":{"field":"g"},"order":{"value":null}}},
{"data":{"values":[{"lon":6.0,"lat":42.51,"t":"(b)"}]},"mark":{"type":"text","fontSize":34},"encoding":{"x":{"field":"lon","type":"quantitative"},"y":{"field":"lat","type":"quantitative"},"text":{"field":"t"}}}]},
{"width":37,"height":284,"view":{"stroke":null},"layer":[
{"data":{"name":"bar"},"mark":{"type":"rect","height":4.3},"encoding":{"x":{"datum":10,"scale":{"domain":[0,37],"nice":false,"zero":false},"axis":null},"x2":{"datum":37},"y":{"field":"v","type":"quantitative","scale":{"domain":[-13.2,57.8],"nice":false,"zero":false},"axis":{"orient":"right","values":[0,10,20,30,40,50],"labelExpr":"format(datum.value/100,'.1f')","title":null,"tickSize":14,"labelPadding":14,"labelAlign":"left"}},"color":{"field":"v","type":"quantitative","legend":null}}},
{"data":{"name":"frame"},"mark":{"type":"rect","filled":false,"stroke":"black","strokeWidth":1.2},"encoding":{"x":{"datum":10},"x2":{"datum":37},"y":{"field":"lo","type":"quantitative"},"y2":{"field":"hi"}}}]}
]},
{"bounds":"flush","spacing":0,"hconcat":[
{"width":471,"height":284,"layer":[
{"data":{"name":"cells"},"mark":{"type":"rect","width":15.6,"height":15},"encoding":{"x":{"field":"x","type":"quantitative","scale":{"domain":[1.697,8.058],"nice":false,"zero":false},"axis":{"values":[2,3,4,5,6,7,8],"format":"d","title":"Longitude","labelPadding":4,"titlePadding":0}},"y":{"field":"y","type":"quantitative","scale":{"domain":[41.767,45.245],"nice":false,"zero":false},"axis":{"values":[42,42.5,43,43.5,44,44.5,45],"labelExpr":"datum.value % 1 == 0 ? format(datum.value,'.1f') : ''","labelAngle":-90,"labelAlign":"center","labelBaseline":"bottom","labelPadding":1,"title":"Latitude","titlePadding":0}},"color":{"field":"c","type":"quantitative","legend":null}}},
{"data":{"name":"lines"},"mark":{"type":"line","color":"black","strokeWidth":1.8,"clip":true},"encoding":{"x":{"field":"lon","type":"quantitative"},"y":{"field":"lat","type":"quantitative"},"detail":{"field":"g"},"order":{"value":null}}},
{"data":{"values":[{"lon":6.0,"lat":42.51,"t":"(c)"}]},"mark":{"type":"text","fontSize":34},"encoding":{"x":{"field":"lon","type":"quantitative"},"y":{"field":"lat","type":"quantitative"},"text":{"field":"t"}}}]},
{"width":241,"height":284,"view":{"stroke":null},"layer":[
{"data":{"name":"bar"},"mark":{"type":"rect","height":4.3},"encoding":{"x":{"datum":10,"scale":{"domain":[0,241],"nice":false,"zero":false},"axis":null},"x2":{"datum":37},"y":{"field":"v","type":"quantitative","scale":{"domain":[-13.2,57.8],"nice":false,"zero":false},"axis":{"orient":"right","offset":-204,"values":[0,10,20,30,40,50],"labelExpr":"format(datum.value/100,'.1f')","title":null,"tickSize":14,"labelPadding":14,"labelAlign":"left"}},"color":{"field":"v","type":"quantitative","legend":null}}},
{"data":{"name":"frame"},"mark":{"type":"rect","filled":false,"stroke":"black","strokeWidth":1.2},"encoding":{"x":{"datum":10},"x2":{"datum":37},"y":{"field":"lo","type":"quantitative"},"y2":{"field":"hi"}}}]},
{"width":471,"height":284,"layer":[
{"data":{"name":"cells"},"mark":{"type":"rect","width":15.6,"height":15},"encoding":{"x":{"field":"x","type":"quantitative","scale":{"domain":[1.697,8.058],"nice":false,"zero":false},"axis":{"values":[2,3,4,5,6,7,8],"format":"d","title":"Longitude","labelPadding":4,"titlePadding":0}},"y":{"field":"y","type":"quantitative","scale":{"domain":[41.767,45.245],"nice":false,"zero":false},"axis":{"values":[42,42.5,43,43.5,44,44.5,45],"labelExpr":"datum.value % 1 == 0 ? format(datum.value,'.1f') : ''","labelAngle":-90,"labelAlign":"center","labelBaseline":"bottom","labelPadding":1,"title":"Latitude","titlePadding":0}},"color":{"field":"d","type":"quantitative","legend":null}}},
{"data":{"name":"lines"},"mark":{"type":"line","color":"black","strokeWidth":1.8,"clip":true},"encoding":{"x":{"field":"lon","type":"quantitative"},"y":{"field":"lat","type":"quantitative"},"detail":{"field":"g"},"order":{"value":null}}},
{"data":{"values":[{"lon":6.0,"lat":42.51,"t":"(d)"}]},"mark":{"type":"text","fontSize":34},"encoding":{"x":{"field":"lon","type":"quantitative"},"y":{"field":"lat","type":"quantitative"},"text":{"field":"t"}}}]},
{"width":37,"height":284,"view":{"stroke":null},"layer":[
{"data":{"name":"bar"},"mark":{"type":"rect","height":4.3},"encoding":{"x":{"datum":10,"scale":{"domain":[0,37],"nice":false,"zero":false},"axis":null},"x2":{"datum":37},"y":{"field":"v","type":"quantitative","scale":{"domain":[-13.2,57.8],"nice":false,"zero":false},"axis":{"orient":"right","values":[0,10,20,30,40,50],"labelExpr":"format(datum.value/100,'.1f')","title":null,"tickSize":14,"labelPadding":14,"labelAlign":"left"}},"color":{"field":"v","type":"quantitative","legend":null}}},
{"data":{"name":"frame"},"mark":{"type":"rect","filled":false,"stroke":"black","strokeWidth":1.2},"encoding":{"x":{"datum":10},"x2":{"datum":37},"y":{"field":"lo","type":"quantitative"},"y2":{"field":"hi"}}}]}
]},
{"bounds":"flush","spacing":0,"hconcat":[
{"width":471,"height":284,"layer":[
{"data":{"name":"cells"},"mark":{"type":"rect","width":15.6,"height":15},"encoding":{"x":{"field":"x","type":"quantitative","scale":{"domain":[1.697,8.058],"nice":false,"zero":false},"axis":{"values":[2,3,4,5,6,7,8],"format":"d","title":"Longitude","labelPadding":4,"titlePadding":0}},"y":{"field":"y","type":"quantitative","scale":{"domain":[41.767,45.245],"nice":false,"zero":false},"axis":{"values":[42,42.5,43,43.5,44,44.5,45],"labelExpr":"datum.value % 1 == 0 ? format(datum.value,'.1f') : ''","labelAngle":-90,"labelAlign":"center","labelBaseline":"bottom","labelPadding":1,"title":"Latitude","titlePadding":0}},"color":{"field":"e","type":"quantitative","legend":null}}},
{"data":{"name":"lines"},"mark":{"type":"line","color":"black","strokeWidth":1.8,"clip":true},"encoding":{"x":{"field":"lon","type":"quantitative"},"y":{"field":"lat","type":"quantitative"},"detail":{"field":"g"},"order":{"value":null}}},
{"data":{"values":[{"lon":6.0,"lat":42.51,"t":"(e)"}]},"mark":{"type":"text","fontSize":34},"encoding":{"x":{"field":"lon","type":"quantitative"},"y":{"field":"lat","type":"quantitative"},"text":{"field":"t"}}}]},
{"width":229,"height":284,"view":{"stroke":null},"layer":[
{"data":{"name":"bar"},"mark":{"type":"rect","height":4.3},"encoding":{"x":{"datum":10,"scale":{"domain":[0,229],"nice":false,"zero":false},"axis":null},"x2":{"datum":37},"y":{"field":"v","type":"quantitative","scale":{"domain":[-13.2,57.8],"nice":false,"zero":false},"axis":{"orient":"right","offset":-192,"values":[0,10,20,30,40,50],"labelExpr":"format(datum.value/100,'.1f')","title":null,"tickSize":14,"labelPadding":14,"labelAlign":"left"}},"color":{"field":"v","type":"quantitative","legend":null}}},
{"data":{"name":"frame"},"mark":{"type":"rect","filled":false,"stroke":"black","strokeWidth":1.2},"encoding":{"x":{"datum":10},"x2":{"datum":37},"y":{"field":"lo","type":"quantitative"},"y2":{"field":"hi"}}}]},
{"width":471,"height":284,"layer":[
{"data":{"name":"cells"},"mark":{"type":"rect","width":15.6,"height":15},"encoding":{"x":{"field":"x","type":"quantitative","scale":{"domain":[1.697,8.058],"nice":false,"zero":false},"axis":{"values":[2,3,4,5,6,7,8],"format":"d","title":"Longitude","labelPadding":4,"titlePadding":0}},"y":{"field":"y","type":"quantitative","scale":{"domain":[41.767,45.245],"nice":false,"zero":false},"axis":{"values":[42,42.5,43,43.5,44,44.5,45],"labelExpr":"datum.value % 1 == 0 ? format(datum.value,'.1f') : ''","labelAngle":-90,"labelAlign":"center","labelBaseline":"bottom","labelPadding":1,"title":"Latitude","titlePadding":0}},"color":{"field":"f","type":"quantitative","legend":null}}},
{"data":{"name":"lines"},"mark":{"type":"line","color":"black","strokeWidth":1.8,"clip":true},"encoding":{"x":{"field":"lon","type":"quantitative"},"y":{"field":"lat","type":"quantitative"},"detail":{"field":"g"},"order":{"value":null}}},
{"data":{"values":[{"lon":6.0,"lat":42.51,"t":"(f)"}]},"mark":{"type":"text","fontSize":34},"encoding":{"x":{"field":"lon","type":"quantitative"},"y":{"field":"lat","type":"quantitative"},"text":{"field":"t"}}}]},
{"width":37,"height":284,"view":{"stroke":null},"layer":[
{"data":{"name":"bar"},"mark":{"type":"rect","height":4.3},"encoding":{"x":{"datum":10,"scale":{"domain":[0,37],"nice":false,"zero":false},"axis":null},"x2":{"datum":37},"y":{"field":"v","type":"quantitative","scale":{"domain":[-13.2,57.8],"nice":false,"zero":false},"axis":{"orient":"right","values":[0,10,20,30,40,50],"labelExpr":"format(datum.value/100,'.1f')","title":null,"tickSize":14,"labelPadding":14,"labelAlign":"left"}},"color":{"field":"v","type":"quantitative","legend":null}}},
{"data":{"name":"frame"},"mark":{"type":"rect","filled":false,"stroke":"black","strokeWidth":1.2},"encoding":{"x":{"datum":10},"x2":{"datum":37},"y":{"field":"lo","type":"quantitative"},"y2":{"field":"hi"}}}]}
]}
]}
